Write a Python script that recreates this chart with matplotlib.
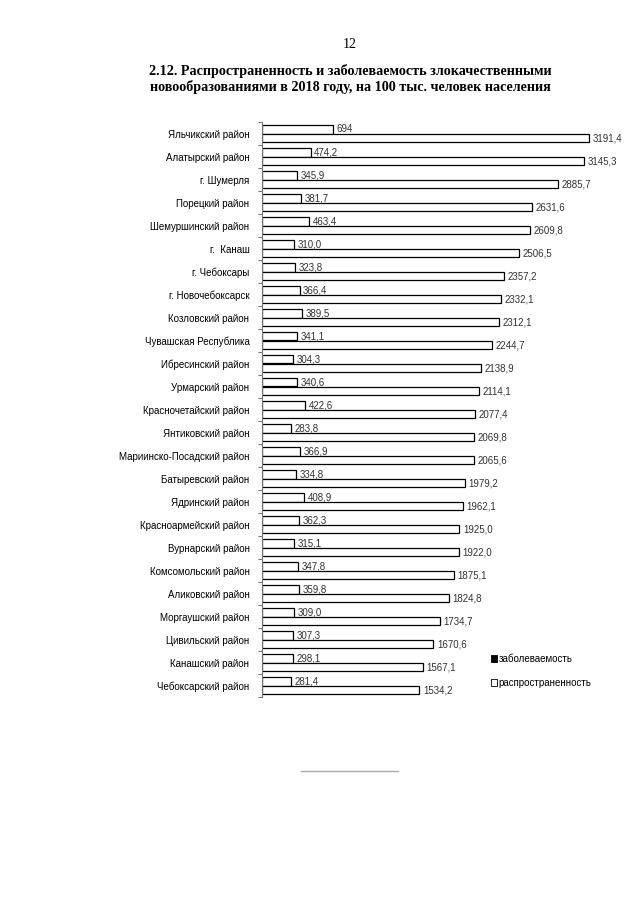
import matplotlib.pyplot as plt
import numpy as np
from matplotlib.patches import Patch
from matplotlib.lines import Line2D

##----- data
districts = ['Яльчикский район', 'Алатырский район', 'г. Шумерля', 'Порецкий район',
             'Шемуршинский район', 'г.  Канаш', 'г. Чебоксары', 'г. Новочебоксарск',
             'Козловский район', 'Чувашская Республика', 'Ибресинский район',
             'Урмарский район', 'Красночетайский район', 'Янтиковский район',
             'Мариинско-Посадский район', 'Батыревский район', 'Ядринский район',
             'Красноармейский район', 'Вурнарский район', 'Комсомольский район',
             'Аликовский район', 'Моргаушский район', 'Цивильский район',
             'Канашский район', 'Чебоксарский район']
incidence = [694, 474.2, 345.9, 381.7, 463.4, 310.0, 323.8, 366.4, 389.5, 341.1,
             304.3, 340.6, 422.6, 283.8, 366.9, 334.8, 408.9, 362.3, 315.1, 347.8,
             359.8, 309.0, 307.3, 298.1, 281.4]
prevalence = [3191.4, 3145.3, 2885.7, 2631.6, 2609.8, 2506.5, 2357.2, 2332.1, 2312.1,
              2244.7, 2138.9, 2114.1, 2077.4, 2069.8, 2065.6, 1979.2, 1962.1, 1925.0,
              1922.0, 1875.1, 1824.8, 1734.7, 1670.6, 1567.1, 1534.2]
inc_text = ['694'] + ['%.1f' % v for v in incidence[1:]]
prev_text = ['%.1f' % v for v in prevalence]


def comma(s):
    return s.replace('.', ',')


plt.rcParams['font.family'] = ['Liberation Sans', 'DejaVu Sans']

fig = plt.figure(figsize=(6.4, 9.05), dpi=100)

##--- page header
fig.text(350 / 640, 1 - 45 / 905, '12', ha='center', va='center',
         family='Liberation Serif', fontsize=10)
fig.text(350 / 640, 1 - 79 / 905,
         '2.12. Распространенность и заболеваемость злокачественными\n'
         'новообразованиями в 2018 году, на 100 тыс. человек населения',
         ha='center', va='center', family='Liberation Serif', fontweight='bold',
         fontsize=10.2, linespacing=1.2)

##--- chart
ax = fig.add_axes([262 / 640, 1 - 697 / 905, 338 / 640, 575 / 905])
y = np.arange(len(districts))
h = 0.35
ax.barh(y - h / 2, incidence, height=h, color='white', edgecolor='black', lw=0.9)
ax.barh(y + h / 2, prevalence, height=h, color='white', edgecolor='black', lw=0.9)

for i in range(len(districts)):
    ax.text(incidence[i] + 35, y[i] - h / 2, comma(inc_text[i]), va='center',
            ha='left', fontsize=7, color='#333333')
    ax.text(prevalence[i] + 35, y[i] + h / 2 + 0.05, comma(prev_text[i]), va='center',
            ha='left', fontsize=7, color='#333333')

ax.set_xlim(0, 338 / 0.1025)
ax.set_ylim(len(districts) - 0.5, -0.5)
ax.set_yticks(y)
ax.set_yticklabels(districts, fontsize=7)
ax.set_yticks(np.arange(-0.5, len(districts)), minor=True)
ax.tick_params(axis='y', which='major', length=0, pad=9)
ax.tick_params(axis='y', which='minor', length=3, color='#777777', width=0.8)
ax.set_xticks([])
for s in ['top', 'right', 'bottom']:
    ax.spines[s].set_visible(False)
ax.spines['left'].set_color('#777777')
ax.spines['left'].set_linewidth(0.8)
ax.patch.set_visible(False)

##--- legend
handles = [Patch(facecolor='black', edgecolor='black', lw=0.6),
           Patch(facecolor='white', edgecolor='black', lw=0.6)]
fig.legend(handles, ['заболеваемость', 'распространенность'],
           loc='upper left', bbox_to_anchor=(486 / 640, 1 - 649 / 905),
           frameon=False, fontsize=7, handlelength=0.6, handleheight=0.6,
           handletextpad=0.2, labelspacing=1.45, borderpad=0)

##--- bottom rule
fig.add_artist(Line2D([301 / 640, 398 / 640], [1 - 771 / 905, 1 - 771 / 905],
                      color='#aaaaaa', lw=1))

plt.savefig('out.png', dpi=100)
